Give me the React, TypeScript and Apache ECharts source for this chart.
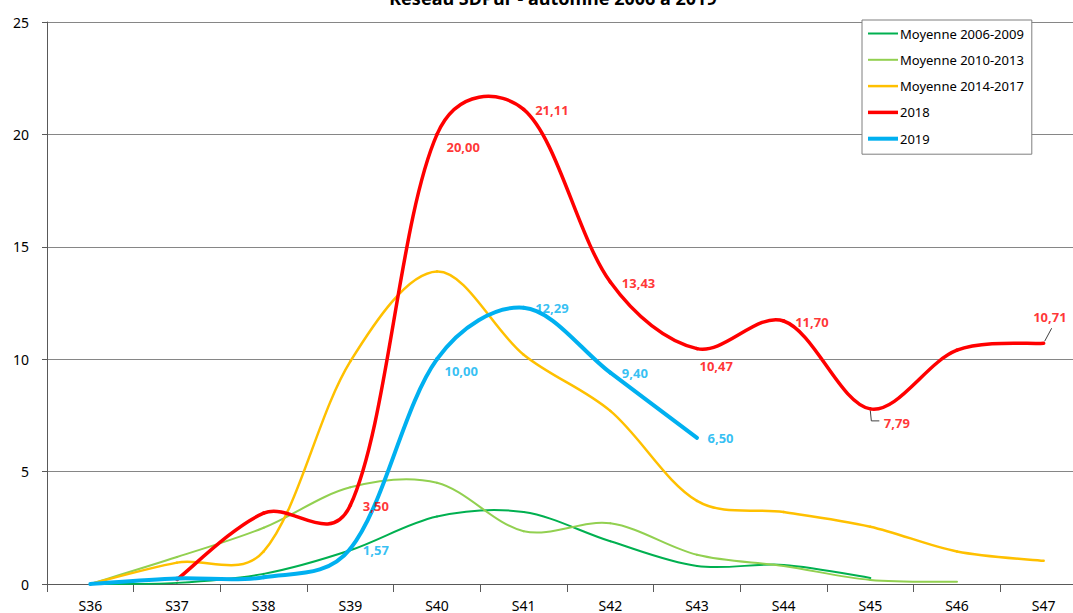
import React, { useEffect, useRef } from "react";
import * as echarts from "echarts";

const weeks = ["S36", "S37", "S38", "S39", "S40", "S41", "S42", "S43", "S44", "S45", "S46", "S47"];
const avg0609 = [0, 0.05, 0.45, 1.5, 3.0, 3.2, 1.9, 0.8, 0.85, 0.27, null, null];
const avg1013 = [0, 1.2, 2.5, 4.3, 4.5, 2.35, 2.7, 1.3, 0.8, 0.18, 0.1, null];
const avg1417 = [0, 0.95, 1.45, 9.9, 13.9, 10.2, 7.7, 3.7, 3.2, 2.55, 1.45, 1.03];
const y2018 = [null, 0.2, 3.15, 3.5, 20.0, 21.11, 13.43, 10.47, 11.7, 7.79, 10.4, 10.71];
const y2019 = [0, 0.25, 0.3, 1.57, 10.0, 12.29, 9.4, 6.5, null, null, null, null];

// label offsets [dx, dy] for labelled points (index -> offset)
const labels2018: Record<number, [number, number]> = {
  3: [7, 1], 4: [4, 13], 5: [6, 1], 6: [6, 1], 7: [-3, 17], 8: [6, 1], 9: [8, 14], 11: [-16, -26],
};
const labels2019: Record<number, [number, number]> = {
  3: [7, 1], 4: [2, 12], 5: [6, 0], 6: [6, 0], 7: [5, 0],
};

const names = ["Moyenne 2006-2009", "Moyenne 2010-2013", "Moyenne 2014-2017", "2018", "2019"];
const colors = ["#00B050", "#92D050", "#FFC000", "#FF0000", "#00B0F0"];
const widths = [2, 2, 2.5, 3.5, 4];
const valueSets = [avg0609, avg1013, avg1417, y2018, y2019];
const labelSets: (Record<number, [number, number]> | null)[] = [null, null, null, labels2018, labels2019];

const fmt = (v: number) => v.toFixed(2).replace(".", ",");

type P = number[];
const dist = (a: P, b: P) => Math.hypot(a[0] - b[0], a[1] - b[1]);

// Excel-like smoothed curve built from pixel points given by the axes
function smoothSegments(pts: P[]) {
  const f = 1 / 6;
  const segs: any[] = [];
  for (let i = 0; i < pts.length - 1; i++) {
    const p1 = pts[i];
    const p2 = pts[i + 1];
    const p0 = i > 0 ? pts[i - 1] : p1;
    const p3 = i + 2 < pts.length ? pts[i + 2] : p2;
    const d01 = dist(p0, p1);
    const d12 = dist(p1, p2);
    const d23 = dist(p2, p3);
    const w1 = i > 0 && d01 + d12 > 0 ? 0.5 + d12 / (d01 + d12) : 1;
    const w2 = i + 2 < pts.length && d12 + d23 > 0 ? 0.5 + d12 / (d12 + d23) : 1;
    segs.push({
      x1: p1[0],
      y1: p1[1],
      cpx1: p1[0] + (p2[0] - p0[0]) * f * w1,
      cpy1: p1[1] + (p2[1] - p0[1]) * f * w1,
      cpx2: p2[0] - (p3[0] - p1[0]) * f * w2,
      cpy2: p2[1] - (p3[1] - p1[1]) * f * w2,
      x2: p2[0],
      y2: p2[1],
    });
  }
  return segs;
}

export default function App() {
  const ref = useRef<HTMLDivElement>(null);
  useEffect(() => {
    if (!ref.current) return;
    const chart = echarts.init(ref.current, null, { renderer: "svg" });
    const FONT = "Noto Sans";

    const curveSeries = names.map((n, si) => {
      const vals = valueSets[si];
      const data: number[][] = [];
      vals.forEach((v, i) => {
        if (v !== null) data.push([i, v as number]);
      });
      return {
        name: n,
        type: "custom",
        coordinateSystem: "cartesian2d",
        silent: true,
        encode: { x: 0, y: 1 },
        data,
        z: 2 + si,
        itemStyle: { color: colors[si] },
        renderItem: (params: any, api: any) => {
          if (params.dataIndex !== 0) return null;
          const pts = data.map((d) => api.coord([d[0], d[1]]));
          const segs = smoothSegments(pts);
          return {
            type: "group",
            children: segs.map((s) => ({
              type: "bezierCurve",
              shape: s,
              style: {
                stroke: colors[si],
                lineWidth: widths[si],
                fill: "none",
                lineCap: "round",
                lineJoin: "round",
              },
            })),
          };
        },
      };
    });

    const labelSeries: any[] = [];
    names.forEach((n, si) => {
      const offs = labelSets[si];
      if (!offs) return;
      const vals = valueSets[si];
      const data = Object.keys(offs).map((k) => {
        const i = Number(k);
        const v = vals[i] as number;
        return {
          value: [weeks[i], v],
          label: { show: true, offset: offs[i], formatter: fmt(v) },
        };
      });
      labelSeries.push({
        name: n,
        type: "scatter",
        data,
        symbol: "circle",
        symbolSize: 1,
        itemStyle: { color: "rgba(0,0,0,0)" },
        silent: true,
        z: 20,
        label: {
          show: true,
          position: "right",
          distance: 5,
          fontFamily: FONT,
          fontWeight: "bold",
          fontSize: 13,
          color: colors[si],
        },
      });
    });

    const option: any = {
      animation: false,
      textStyle: { fontFamily: FONT },
      grid: {
        left: 47,
        width: 1040,
        top: 22,
        bottom: 29,
        containLabel: false,
        outerBoundsMode: "none",
      },
      xAxis: {
        type: "category",
        data: weeks,
        boundaryGap: true,
        axisLine: { lineStyle: { color: "#595959", width: 1 } },
        axisTick: { show: true, length: 8, lineStyle: { color: "#595959" } },
        axisLabel: { fontSize: 14, color: "#000", margin: 14, fontFamily: FONT },
        splitLine: { show: false },
      },
      yAxis: {
        type: "value",
        min: 0,
        max: 25,
        interval: 5,
        axisLine: { show: true, lineStyle: { color: "#595959", width: 1 } },
        axisTick: { show: true, length: 5, lineStyle: { color: "#595959" } },
        axisLabel: { fontSize: 14, color: "#000", margin: 18, fontFamily: FONT },
        splitLine: { show: true, lineStyle: { color: "#868686", width: 1 } },
      },
      legend: {
        orient: "vertical",
        left: 862,
        top: 20,
        itemWidth: 30,
        itemHeight: 14,
        itemGap: 13.3,
        padding: [7, 8, 9, 6],
        borderColor: "#7f7f7f",
        borderWidth: 1,
        backgroundColor: "#fff",
        textStyle: { fontSize: 13, color: "#000", fontFamily: FONT, padding: [0, 0, 0, -3] },
        data: names.map((n, i) => ({
          name: n,
          icon: `path://M0,0 L30,0 L30,${widths[i]} L0,${widths[i]} Z`,
          itemStyle: { color: colors[i] },
        })),
      },
      graphic: [
        {
          type: "text",
          x: 553,
          y: -2,
          style: {
            text: "Réseau SDPur - automne 2006 à 2019",
            font: `bold 18px "${FONT}"`,
            textAlign: "center",
            textVerticalAlign: "middle",
            fill: "#000",
          },
        },
      ],
      series: [...curveSeries, ...labelSeries],
    };
    chart.setOption(option);

    const p1 = chart.convertToPixel({ gridIndex: 0 }, [weeks[9], y2018[9] as number]) as number[];
    const p2 = chart.convertToPixel({ gridIndex: 0 }, [weeks[11], y2018[11] as number]) as number[];
    chart.setOption({
      graphic: [
        option.graphic[0],
        {
          type: "polyline",
          shape: { points: [[p1[0], p1[1] + 2], [p1[0] + 1, p1[1] + 12], [p1[0] + 9, p1[1] + 12]] },
          style: { stroke: "#404040", lineWidth: 1, fill: null },
          z: 10,
        },
        {
          type: "line",
          shape: { x1: p2[0] + 1, y1: p2[1] - 2, x2: p2[0] + 8, y2: p2[1] - 15 },
          style: { stroke: "#404040", lineWidth: 1 },
          z: 10,
        },
      ],
    });
    return () => chart.dispose();
  }, []);
  return (
    <div
      ref={ref}
      style={{ position: "fixed", left: 0, top: 0, width: 1073, height: 613, background: "#fff" }}
    />
  );
}
